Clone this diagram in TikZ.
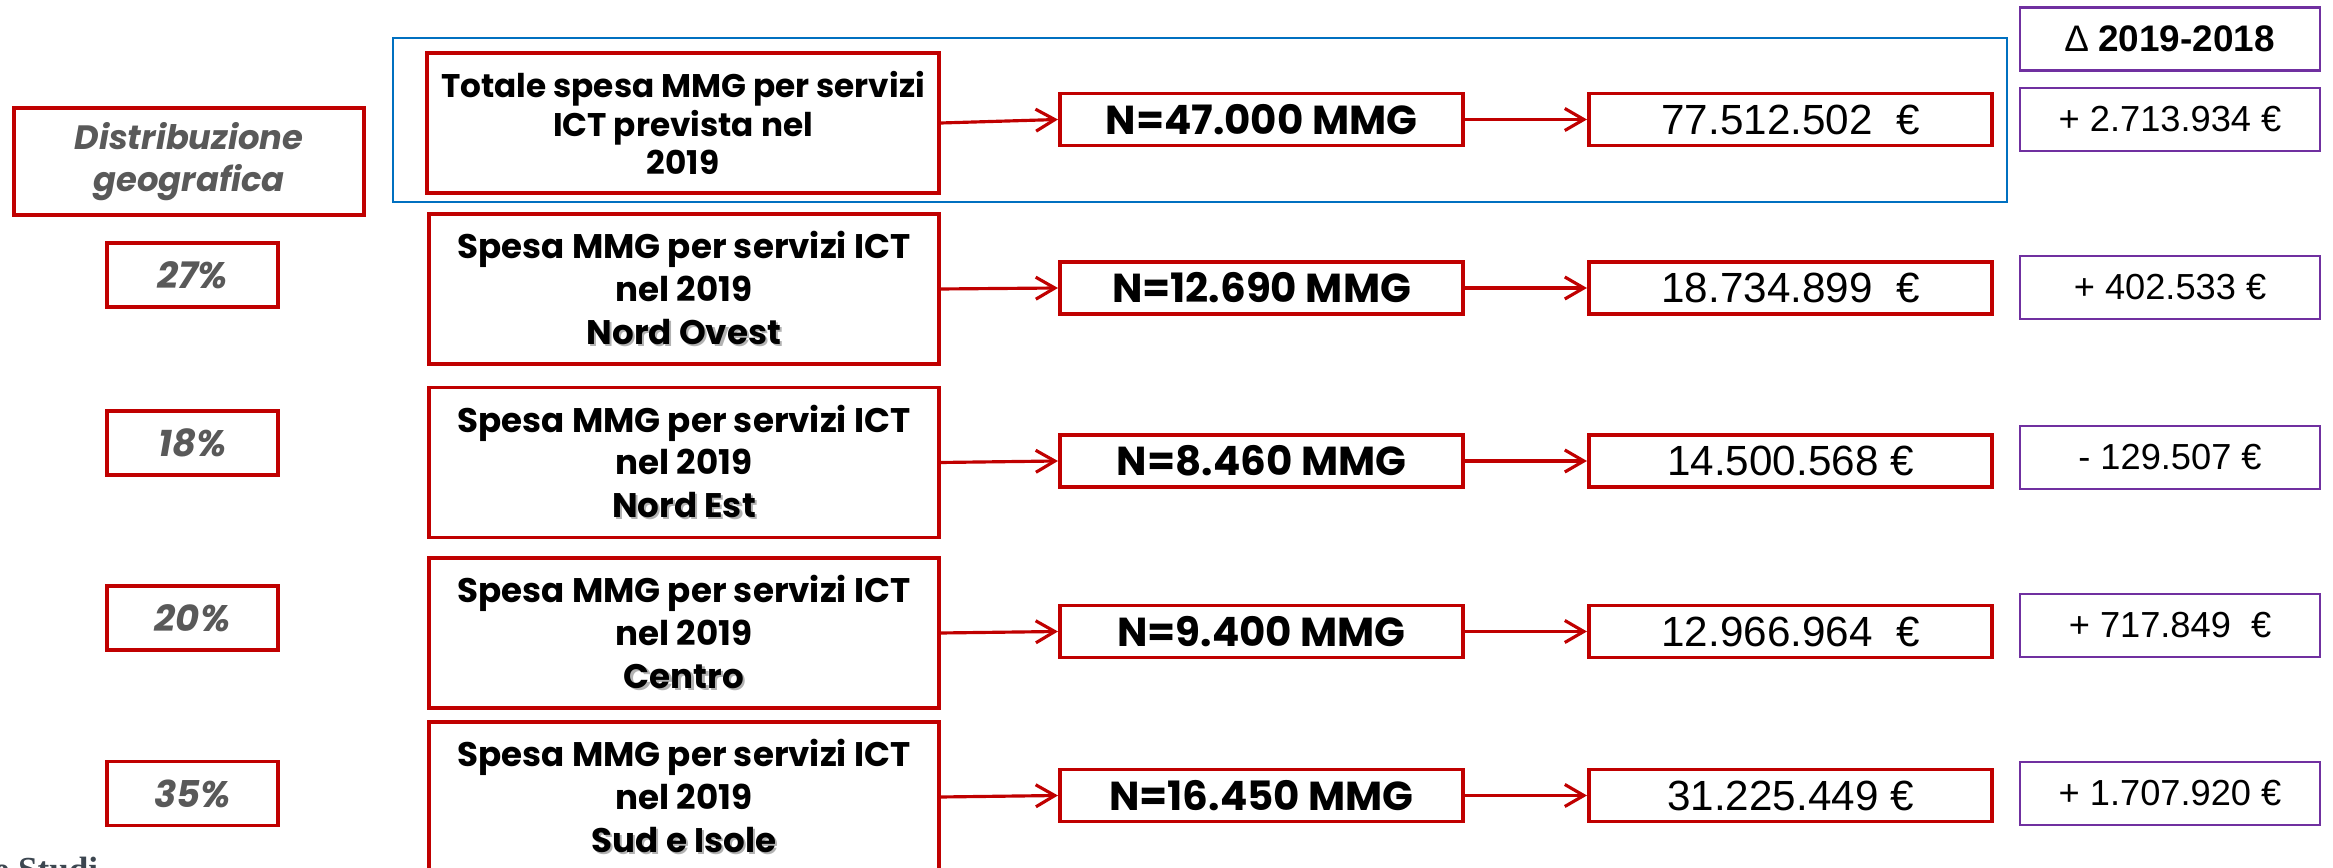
\documentclass[tikz,border=0pt]{standalone}
\usepackage{fontspec}
\setmainfont{Poppins}
\newfontfamily\arialfont{Liberation Sans}
\newfontfamily\serifont{Liberation Serif}
\usetikzlibrary{arrows.meta}
\definecolor{boxred}{HTML}{C00000}
\definecolor{boxblue}{HTML}{0070C0}
\definecolor{boxpurple}{HTML}{7030A0}
\definecolor{pctgray}{HTML}{595959}
\definecolor{logogray}{HTML}{3C4650}
\newcommand{\shtxt}[1]{\leavevmode\rlap{\kern0.6pt\raisebox{-0.6pt}{\textcolor{black!30}{#1}}}#1}

\begin{document}
\begin{tikzpicture}[x=0.01cm,y=-0.01cm,
    redbox/.style={draw=boxred,line width=1.1pt,align=center,inner sep=0pt},
    purplebox/.style={draw=boxpurple,line width=0.6pt,minimum width=3cm,minimum height=0.63cm,inner sep=0pt,font=\arialfont\fontsize{10.3}{12}\selectfont},
    pctbox/.style={redbox,minimum width=1.71cm,minimum height=0.64cm,text=pctgray,font=\bfseries\itshape\fontsize{10.5}{12}\selectfont},
    spesabox/.style={redbox,minimum width=5.1cm,minimum height=1.5cm,font=\bfseries\fontsize{9.7}{12.1}\selectfont},
    mmgbox/.style={redbox,minimum width=4.03cm,minimum height=0.52cm,font=\bfseries\fontsize{11.5}{13}\selectfont},
    eurobox/.style={redbox,minimum width=4.03cm,minimum height=0.52cm,font=\arialfont\fontsize{12}{14}\selectfont},
    link/.style={-{Straight Barb[length=1.9mm,width=2.2mm]},draw=boxred,line width=0.9pt}]
    \useasboundingbox (0,0) rectangle (2333,868);
    \clip (0,0) rectangle (2333,868);

    \draw[boxblue,line width=0.7pt] (393,38) rectangle (2007,202);

    \node[redbox,minimum width=3.5cm,minimum height=1.07cm,text=pctgray,font=\bfseries\itshape\fontsize{9.6}{11.9}\selectfont] (distr) at (189,161.5) {Distribuzione\\geografica};

    \node[spesabox,minimum width=5.12cm,minimum height=1.4cm,font=\bfseries\fontsize{9.3}{10.9}\selectfont] (tot) at (683,123) {Totale spesa MMG per servizi\\ICT prevista nel\\2019};
    \node[mmgbox] (n0) at (1261.5,119.5) {N=47.000 MMG};
    \node[eurobox] (e0) at (1790.5,119.5) {77.512.502~~€};
    \node[purplebox,font=\arialfont\bfseries\fontsize{10.5}{12}\selectfont] (dhead) at (2170,39) {{\mdseries ∆} 2019-2018};
    \node[purplebox] (d0) at (2170,119.5) {+ 2.713.934 €};
    \draw[link] (tot.east) -- (n0.west);
    \draw[link] (n0) -- (e0);

    \foreach \i/\yp/\ys/\yn/\yd/\pc/\reg/\nn/\eu/\dd in {
        1/275/289/288/287.5/27/Nord Ovest/12.690/18.734.899~~€/+ 402.533 €,
        2/443/462.5/461/457.5/18/Nord Est/8.460/14.500.568 €/- 129.507 €,
        3/618/633/631.5/625.5/20/Centro/9.400/12.966.964~~€/+ 717.849~~€,
        4/793.5/797/795.5/793.5/35/Sud e Isole/16.450/31.225.449 €/+ 1.707.920 €}{
        \node[pctbox] (pc\i) at (192.5,\yp) {\pc\%};
        \node[spesabox] (sp\i) at (684,\ys) {Spesa MMG per servizi ICT\\nel 2019\\\shtxt{\reg}};
        \node[mmgbox] (n\i) at (1261.5,\yn) {N=\nn\ MMG};
        \node[eurobox] (e\i) at (1790.5,\yn) {\eu};
        \node[purplebox] (d\i) at (2170,\yd) {\dd};
        \draw[link] (sp\i.east) -- (n\i.west);
        \draw[link] (n\i) -- (e\i);
    }

    \node[anchor=base west,inner sep=0pt,text=logogray,font=\serifont\bfseries\fontsize{10}{12}\selectfont] (logo) at (-7,882) {e Studi};
\end{tikzpicture}
\end{document}
